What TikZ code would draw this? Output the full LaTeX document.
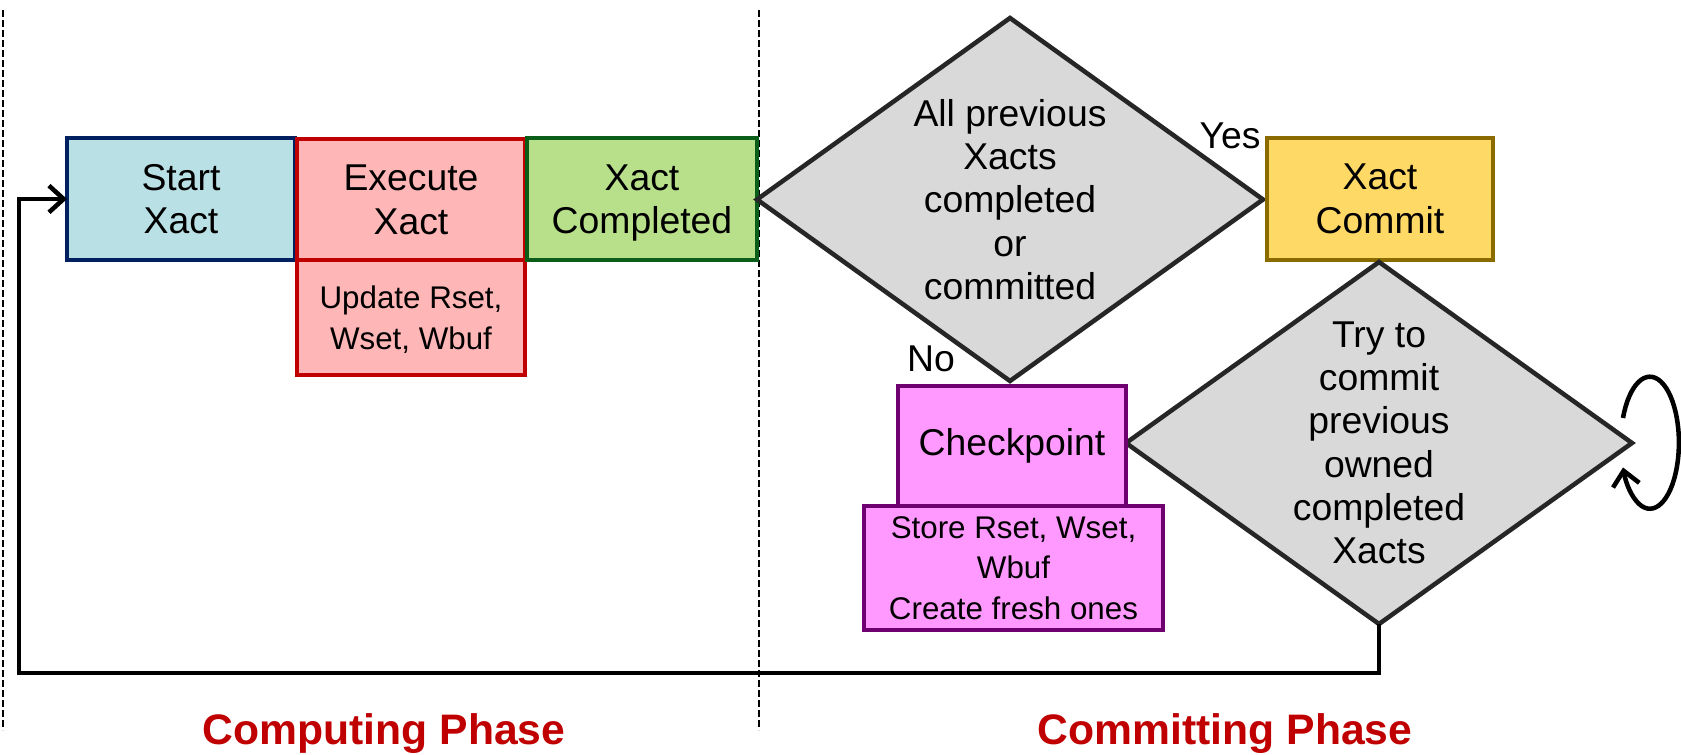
\documentclass[tikz,border=0pt]{standalone}
\usepackage{fontspec}
\setmainfont{Liberation Sans}
\usetikzlibrary{shapes.geometric,arrows.meta}

\definecolor{startfill}{HTML}{B9E0E5}
\definecolor{startdraw}{HTML}{002060}
\definecolor{execfill}{HTML}{FFB6B6}
\definecolor{execdraw}{HTML}{C00000}
\definecolor{donefill}{HTML}{B8E08B}
\definecolor{donedraw}{HTML}{0B5E1A}
\definecolor{decfill}{HTML}{D9D9D9}
\definecolor{decdraw}{HTML}{262626}
\definecolor{commitfill}{HTML}{FFD966}
\definecolor{commitdraw}{HTML}{8B6A00}
\definecolor{ckptfill}{HTML}{FF99FF}
\definecolor{ckptdraw}{HTML}{6F006F}
\definecolor{phasered}{HTML}{C00000}

\newcommand\bigtext{\fontsize{28}{32.5}\selectfont}
\newcommand\smalltext{\fontsize{23.5}{30.5}\selectfont}
\newcommand\phasetext{\bfseries\fontsize{32}{38}\selectfont}

\begin{document}
\begin{tikzpicture}[x=0.75pt,y=-0.75pt,
  box/.style={draw, line width=3.4pt, inner sep=0pt, outer sep=0pt, align=center, font=\bigtext},
  subbox/.style={box, font=\smalltext},
  decision/.style={diamond, draw=decdraw, fill=decfill, line width=3.4pt, inner sep=0pt, outer sep=0pt},
  dectext/.style={align=center, font=\bigtext, inner sep=0pt},
  conn/.style={line width=3.4pt, -{Straight Barb[length=11pt,width=20pt,line width=3.4pt]}},
  divider/.style={line width=1.2pt, dash pattern=on 5pt off 2.5pt},
  phase/.style={font=\phasetext, text=phasered, inner sep=0pt}
]
\useasboundingbox (0,0) rectangle (1681,755);

% phase separators
\coordinate (divAtop) at (3,10);
\coordinate (divAbot) at (3,730);
\coordinate (divBtop) at (759,10);
\coordinate (divBbot) at (759,730);
\draw[divider] (divAtop) -- (divAbot);
\draw[divider] (divBtop) -- (divBbot);

% computing phase
\node[box, fill=startfill, draw=startdraw, minimum width=171pt, minimum height=91.5pt]
  (start) at (181,199) {Start\\Xact};
\node[box, fill=execfill, draw=execdraw, minimum width=171pt, minimum height=91.5pt]
  (exec) at (411,200) {Execute\\Xact};
\node[subbox, fill=execfill, draw=execdraw, minimum width=171pt, minimum height=86.25pt]
  (update) at (411,317.5) {Update Rset,\\\smash{Wset, Wbuf}};
\node[box, fill=donefill, draw=donedraw, minimum width=172.5pt, minimum height=91.5pt]
  (done) at (642,199) {Xact\\\smash{Completed}};

% committing phase
\node[decision, minimum width=379.5pt, minimum height=272.25pt] (d1) at (1010,199.5) {};
\node[dectext] (d1text) at (d1.center) {All previous\\Xacts\\completed\\or\\committed};
\node[box, fill=commitfill, draw=commitdraw, minimum width=169.5pt, minimum height=91.5pt]
  (commit) at (1380,199) {Xact\\Commit};
\node[font=\bigtext, inner sep=0pt] (yes) at (1230,136) {Yes};
\node[font=\bigtext, inner sep=0pt] (no) at (931,359) {No};

\node[decision, minimum width=379.5pt, minimum height=271.5pt] (d2) at (1379,443) {};
\node[dectext] (d2text) at (d2.center) {Try to\\commit\\previous\\owned\\completed\\Xacts};

\node[box, fill=ckptfill, draw=ckptdraw, minimum width=171pt, minimum height=90pt]
  (ckpt) at (1012,446) {Checkpoint};
\node[subbox, fill=ckptfill, draw=ckptdraw, minimum width=224.25pt, minimum height=93pt]
  (store) at (1013.5,568) {Store Rset, Wset,\\Wbuf\\Create fresh ones};

% retry loop on the commit attempt
\coordinate (loopstart) at (1623,418);
\draw[conn] (loopstart) arc[start angle=-158, end angle=158, x radius=29, y radius=66];

% back to the start of a new transaction
\coordinate (retcorner) at (19,673);
\draw[conn] (d2.south) |- (retcorner) |- (start.west);

% phase titles
\node[phase] (computing) at (384,734) {Computing Phase};
\node[phase] (committing) at (1225,734) {Committing Phase};
\end{tikzpicture}
\end{document}
